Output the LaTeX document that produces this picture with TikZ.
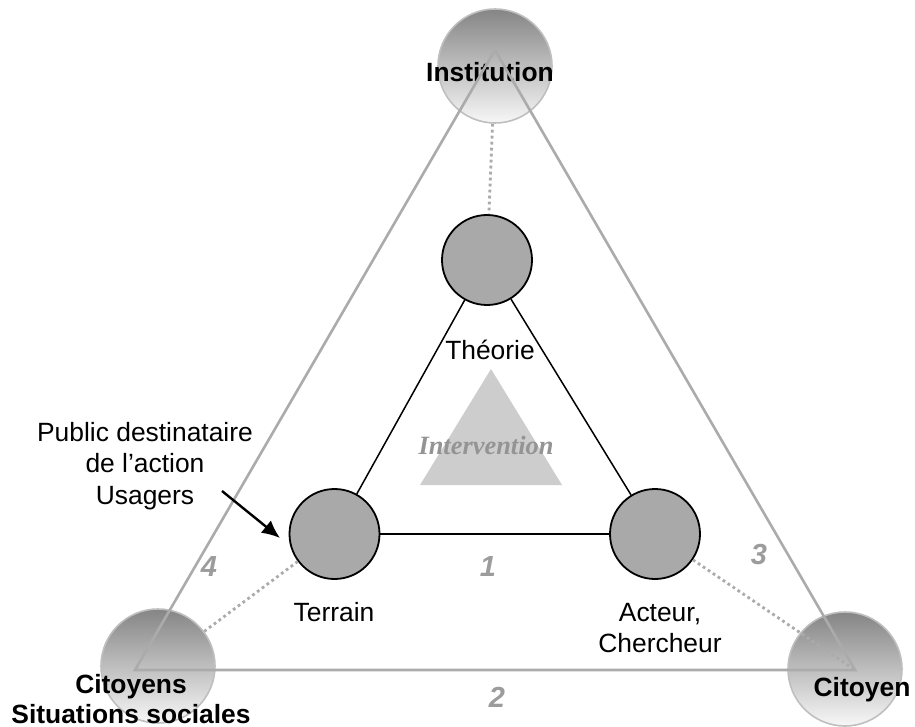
\documentclass[tikz,border=0pt]{standalone}
\usepackage{fontspec}
\setmainfont{Liberation Sans}
\newfontfamily\timesfont{Liberation Serif}
\usepackage{tikz}
\usetikzlibrary{arrows.meta,calc,positioning}

\definecolor{edgegray}{HTML}{ABABAB}
\definecolor{discgray}{HTML}{A9A9A9}
\definecolor{numgray}{HTML}{9C9C9C}
\definecolor{wedgegray}{HTML}{CDCDCD}

\tikzset{
  lbl/.style={font=\fontsize{13.2}{15.8}\selectfont, align=center, inner sep=0pt},
  boldlbl/.style={lbl, font=\fontsize{13.2}{15}\selectfont\bfseries},
  numlbl/.style={font=\fontsize{14.5}{16}\selectfont\bfseries\itshape, text=numgray, inner sep=0pt},
  pole/.style={circle, minimum size=57pt, inner sep=0pt, draw=black!25, line width=0.8pt,
    top color=black!48, bottom color=black!3},
  disc/.style={circle, minimum size=45pt, inner sep=0pt, draw=black, line width=0.9pt, fill=discgray},
  outer/.style={edgegray, line width=1.3pt},
  dotline/.style={edgegray, line width=1.4pt, dash pattern=on 1.4pt off 1.6pt},
  link/.style={black, line width=0.75pt}
}

\begin{document}
\begin{tikzpicture}[x=0.5pt,y=-0.5pt,>=Latex]
  \useasboundingbox (0,0) rectangle (915,727);

  % Corners of the outer triangle
  \coordinate (vT) at (495,50);
  \coordinate (vL) at (135,670);
  \coordinate (vR) at (855,670);

  % Shaded poles
  \node[pole] (inst) at (495,66) {};
  \node[pole] (citoyens) at (158,666) {};
  \node[pole] (citoyen) at (845,669) {};

  \node[boldlbl] (instlbl) at (490,72) {Institution};

  % Outer triangle
  \draw[outer] (vT) -- (vL) -- (vR) -- cycle;

  \node[boldlbl] (citoyenslbl) at (131,699) {Citoyens\\Situations sociales};
  \node[boldlbl] (citoyenlbl) at (862,690) {Citoyen};

  % Intervention wedge
  \fill[wedgegray] (491,369) -- (420,485) -- (562,485) -- cycle;
  \node[font=\fontsize{13.2}{15}\selectfont\timesfont\bfseries\itshape, text=black!42, inner sep=0pt]
    (interv) at (486,445) {Intervention};

  % Inner triangle
  \node[disc] (theorie) at (487,260) {};
  \node[disc] (terrain) at (334.5,534) {};
  \node[disc] (acteur) at (655,534) {};
  \draw[link] (theorie) -- (terrain);
  \draw[link] (theorie) -- (acteur);
  \draw[link] (terrain) -- (acteur);

  % Dotted ties to the poles
  \draw[dotline] (inst) -- (theorie);
  \draw[dotline] (terrain) -- (citoyens);
  \draw[dotline] (acteur) -- (vR);

  % Labels
  \node[lbl] (theorielbl) at (490,350) {Théorie};
  \node[lbl] (terrainlbl) at (334,612) {Terrain};
  \node[lbl] (acteurlbl) at (660,628) {Acteur,\\Chercheur};
  \node[lbl] (public) at (145,466) {Public destinataire\\de l’action\\Usagers};

  % Pointer to Terrain
  \coordinate (ptfrom) at (222,491);
  \coordinate (ptto) at (280,538);
  \draw[-{Latex[length=9pt,width=8pt]}, line width=1.2pt] (ptfrom) -- (ptto);

  % Side numbers
  \node[numlbl] (n1) at (488,567) {1};
  \node[numlbl] (n2) at (497,697) {2};
  \node[numlbl] (n3) at (759,555) {3};
  \node[numlbl] (n4) at (209,567) {4};
\end{tikzpicture}
\end{document}
